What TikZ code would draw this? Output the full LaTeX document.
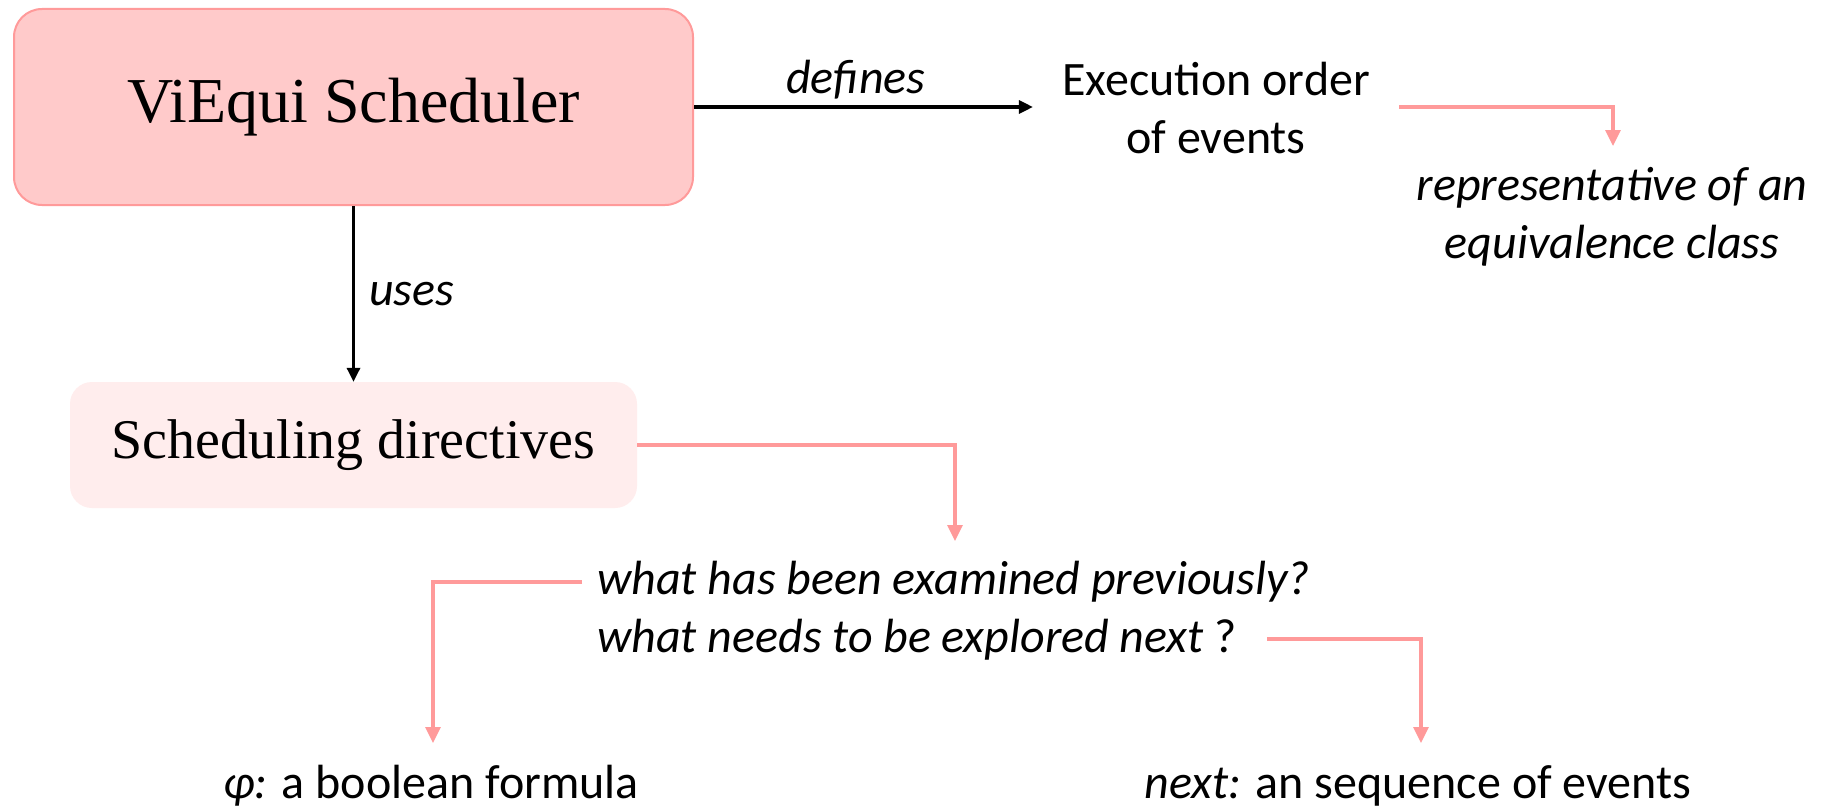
\documentclass[tikz,border=0pt]{standalone}
\usepackage{fontspec}
\setmainfont{Carlito}
\newfontfamily\boxfont{Liberation Serif}
\usetikzlibrary{arrows.meta}
\definecolor{boxpink}{HTML}{FFCACA}
\definecolor{boxedge}{HTML}{FF9A9A}
\definecolor{palepink}{HTML}{FFEDED}
\definecolor{linkpink}{HTML}{FF9A9A}
\tikzset{
  bigbox/.style={draw=boxedge, line width=2pt, fill=boxpink, rounded corners=28pt,
    minimum width=679pt, minimum height=196pt, font=\boxfont\fontsize{64}{72}\selectfont},
  smallbox/.style={fill=palepink, rounded corners=22pt,
    minimum width=567pt, minimum height=126pt, font=\boxfont\fontsize{56}{64}\selectfont},
  txt/.style={font=\fontsize{48}{58}\selectfont, inner sep=0pt},
  itxt/.style={txt, font=\fontsize{48}{58}\selectfont\itshape},
  blackarrow/.style={draw=black, line width=3.2pt, -{Triangle[width=13pt,length=14pt]}},
  pinkarrow/.style={draw=linkpink, line width=3.2pt, -{Triangle[width=15pt,length=16pt]}},
}
\begin{document}
\begin{tikzpicture}[x=1pt,y=-1pt]
  \path[use as bounding box, fill=white] (0,0) rectangle (1826,808);

  % main boxes
  \node[bigbox] (sched) at (353.5,107) {ViEqui Scheduler};
  \node[smallbox] (dir) at (353.5,445) {Scheduling directives};

  % plain text nodes
  \node[txt, align=center] (exec) at (1216,108) {Execution order\\of events};
  \node[itxt, align=center] (repr) at (1612,217)
    {representative of an\\equivalence class};
  \node[txt, align=left, anchor=west] (quest) at (597,611)
    {\itshape what has been examined previously?\\\itshape what needs to be explored next\upshape{} ?};
  \node[txt] (phi) at (431,786) {\itshape φ:\upshape{} a boolean formula};
  \node[txt] (next) at (1418,786) {\itshape next:\upshape{} an sequence of events};

  % bend targets
  \coordinate (reprIn) at (1613,146);
  \coordinate (questIn) at (955,541);
  \coordinate (phiIn) at (433,743);
  \coordinate (nextIn) at (1421,743);
  \coordinate (qOut) at (1267,639);

  % black arrows with labels
  \draw[blackarrow, shorten >=29pt] (sched.east) -- (sched.east -| exec.west)
    node[pos=0.44, above=6pt, itxt] (deflbl) {defines};
  \draw[blackarrow] (sched.south) -- (dir.north)
    node[midway, right=14pt, itxt] (useslbl) {uses};

  % pink elbow connectors
  \draw[pinkarrow, shorten <=29pt] (exec.east |- 0,107) -| (reprIn);
  \draw[pinkarrow] (dir.east) -| (questIn);
  \draw[pinkarrow, shorten <=15pt] (quest.west |- 0,582) -| (phiIn);
  \draw[pinkarrow] (qOut) -| (nextIn);
\end{tikzpicture}
\end{document}
